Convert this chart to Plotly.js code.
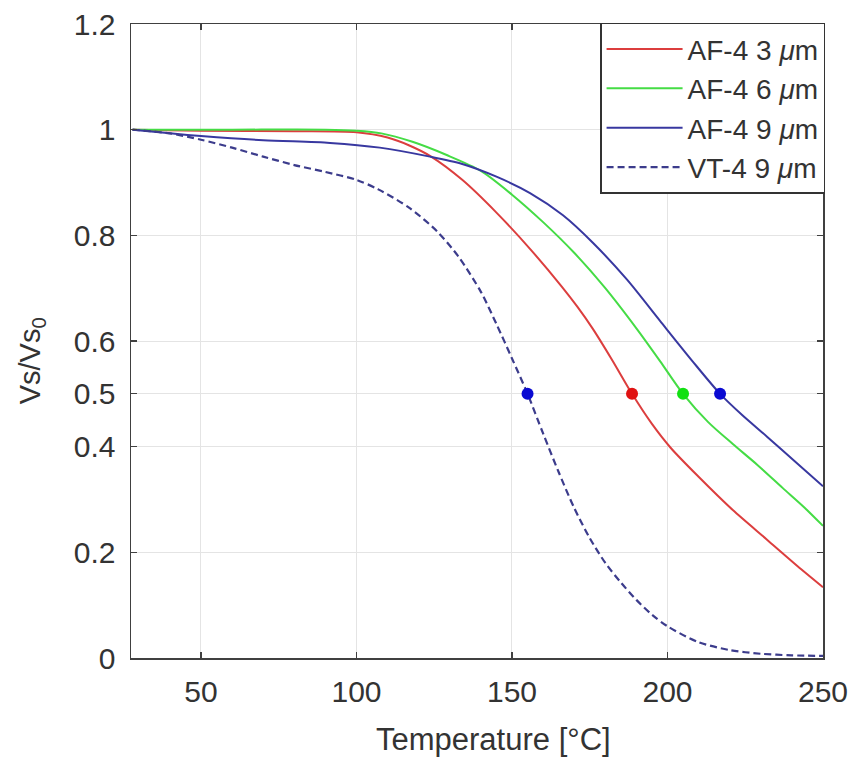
<!DOCTYPE html>
<html>
<head>
<meta charset="utf-8">
<script src="https://cdn.plot.ly/plotly-3.0.1.min.js"></script>
<style>html,body{margin:0;padding:0;background:#fff;}#chart{width:857px;height:759px;}</style>
</head>
<body>
<div id="chart"></div>
<script>
// AF-4 3 um
const tempAF3 = [28, 50, 80, 100, 110, 117, 124, 134, 145, 156, 166, 171, 176, 182, 188.6, 195, 201, 210, 221, 232, 243, 250];
const valAF3  = [1.0, 0.998, 0.997, 0.995, 0.985, 0.97, 0.949, 0.905, 0.843, 0.773, 0.703, 0.665, 0.623, 0.566, 0.5, 0.443, 0.398, 0.343, 0.28, 0.224, 0.168, 0.134];
// AF-4 6 um
const tempAF6 = [28, 60, 90, 100, 108, 118, 129, 140, 150, 160, 170, 180, 190, 197.6, 205, 213, 221, 229, 237, 244, 250];
const valAF6  = [1.0, 1.0, 1.0, 0.998, 0.993, 0.977, 0.952, 0.922, 0.877, 0.825, 0.767, 0.70, 0.624, 0.562, 0.5, 0.447, 0.405, 0.365, 0.322, 0.285, 0.25];
// AF-4 9 um
const tempAF9 = [28, 40, 50, 70, 91.5, 107.5, 123.6, 134, 145, 155.8, 166.4, 176, 187, 197.6, 208, 216.9, 224, 232, 241, 250];
const valAF9  = [1.0, 0.993, 0.988, 0.98, 0.975, 0.966, 0.949, 0.935, 0.911, 0.88, 0.838, 0.786, 0.716, 0.638, 0.562, 0.5, 0.46, 0.419, 0.372, 0.325];
// VT-4 9 um
const tempVT9 = [28, 40, 50, 60, 70, 80, 90, 100, 107, 117, 126, 133, 140, 145, 150, 155, 160, 165, 170, 175, 180, 185, 190, 195, 200, 210, 220, 230, 240, 250];
const valVT9  = [1.0, 0.993, 0.981, 0.966, 0.949, 0.933, 0.92, 0.905, 0.887, 0.852, 0.807, 0.758, 0.693, 0.632, 0.567, 0.5, 0.425, 0.352, 0.284, 0.227, 0.18, 0.143, 0.11, 0.082, 0.06, 0.03, 0.015, 0.008, 0.005, 0.004];
// Half-value points (Vs/Vs0 = 0.5)
const halfTemps  = [155, 188.6, 205, 216.9];
const halfVals   = [0.5, 0.5, 0.5, 0.5];
const halfColors = ['#0a0ad2', '#e01212', '#12e012', '#0a0ad2'];

const names = ['AF-4 3 <i>μ</i>m', 'AF-4 6 <i>μ</i>m', 'AF-4 9 <i>μ</i>m', 'VT-4 9 <i>μ</i>m'];
const xTicks = [50, 100, 150, 200, 250];
const yTicks = [0, 0.2, 0.4, 0.5, 0.6, 0.8, 1, 1.2];
const yTickText = ['0', '0.2', '0.4', '0.5', '0.6', '0.8', '1', '1.2'];

const FONT = 'Liberation Sans, Arial, sans-serif';
const traces = [
  {x: tempAF3, y: valAF3, name: names[0], mode: 'lines', line: {color: '#dc3e3e', width: 2, shape: 'spline', smoothing: 0.8}},
  {x: tempAF6, y: valAF6, name: names[1], mode: 'lines', line: {color: '#45dc45', width: 2, shape: 'spline', smoothing: 0.8}},
  {x: tempAF9, y: valAF9, name: names[2], mode: 'lines', line: {color: '#3838a0', width: 2, shape: 'spline', smoothing: 0.8}},
  {x: tempVT9, y: valVT9, name: names[3], mode: 'lines', line: {color: '#3c3c8c', width: 2.2, dash: '7px,4px', shape: 'spline', smoothing: 0.8}},
  {x: halfTemps, y: halfVals, mode: 'markers', showlegend: false, marker: {color: halfColors, size: 12}, hoverinfo: 'skip'}
];

const axisCommon = {
  showline: true, linecolor: '#404040', linewidth: 1.5, mirror: 'ticks',
  ticks: 'inside', ticklen: 6, tickcolor: '#404040', tickwidth: 1.2,
  showgrid: true, gridcolor: '#e4e4e4', gridwidth: 1, zeroline: false,
  tickfont: {family: FONT, size: 30, color: '#333'}
};

const layout = {
  width: 857, height: 759,
  margin: {l: 131, r: 34, t: 24, b: 101},
  paper_bgcolor: '#fff', plot_bgcolor: '#fff',
  xaxis: Object.assign({}, axisCommon, {range: [27.5, 250], tickvals: xTicks, ticklabelstandoff: 6}),
  yaxis: Object.assign({}, axisCommon, {range: [0, 1.2], tickvals: yTicks, ticktext: yTickText, ticklabelstandoff: 8}),
  showlegend: true,
  legend: {
    x: 1.003, xanchor: 'right', y: 1.002, yanchor: 'top',
    bgcolor: '#fff', bordercolor: '#333', borderwidth: 1.5,
    font: {family: FONT, size: 28, color: '#333'},
    itemwidth: 76, tracegroupgap: 0
  },
  annotations: [
    {text: 'Temperature [°C]', xref: 'paper', yref: 'paper', x: 0.524, y: -0.129, xanchor: 'center', yanchor: 'middle', showarrow: false, font: {family: FONT, size: 31, color: '#333'}},
    {text: 'Vs/Vs<sub>0</sub>', xref: 'paper', yref: 'paper', x: -0.143, y: 0.468, xanchor: 'center', yanchor: 'middle', textangle: -90, showarrow: false, font: {family: FONT, size: 29, color: '#333'}}
  ]
};

Plotly.newPlot('chart', traces, layout, {displayModeBar: false, staticPlot: true});
</script>
</body>
</html>
